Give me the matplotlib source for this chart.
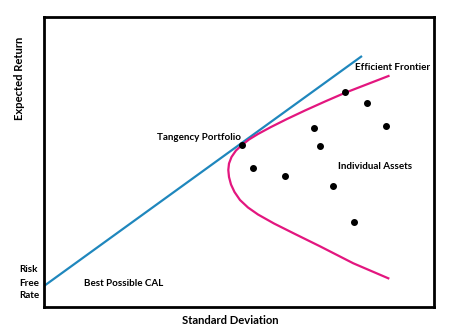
import matplotlib.pyplot as plt

# values (plot units: 0..390 across, 0..290 up)
cal_x = [0, 318]
cal_y = [21, 251]

frontier_x = [344.5, 323, 301.3, 281, 261, 243, 227, 214, 205, 198, 192, 187.5, 185,
              184.3, 185, 187, 190.5, 196, 204, 214, 230, 251, 276, 309.3, 344.3]
frontier_y = [231, 222.7, 214.3, 205.5, 196.5, 188, 180, 173, 167.5, 162, 156.5, 150, 143.5,
              137, 130, 122.5, 115, 107, 99.5, 92.5, 83.5, 73, 60.7, 43.7, 28.7]

asset_x = [197.7, 301.3, 323, 342, 269.7, 276.3, 208.7, 240.7, 289.3, 310]
asset_y = [162.3, 214.7, 204, 181.3, 179.3, 161.3, 138.7, 131.3, 120.7, 85.3]

plt.rcParams['font.family'] = ['Lato', 'DejaVu Sans']

W, H = 450, 335
fig = plt.figure(figsize=(4.5, 3.35), dpi=100)
ax = fig.add_axes([44 / W, 28 / H, 390 / W, 290 / H])

ax.plot(cal_x, cal_y, color='#1F87BD', linewidth=1.6, solid_capstyle='butt')
ax.plot(frontier_x, frontier_y, color='#E3167F', linewidth=1.6, solid_joinstyle='round')
ax.plot(asset_x, asset_y, 'o', color='black', markersize=4)

ax.set_xlim(0, 390)
ax.set_ylim(0, 290)
ax.set_xticks([])
ax.set_yticks([])
for s in ax.spines.values():
    s.set_linewidth(2)
    s.set_color('black')

def label(px, py, txt, fs=7.1, **kw):
    fig.text(px / W, 1 - py / H, txt, fontsize=fs, fontweight='bold', va='center', **kw)

label(20, 78, 'Expected Return', fs=8.1, rotation=90, ha='center')
label(230, 321, 'Standard Deviation', fs=8.1, ha='center')
label(157, 137, 'Tangency Portfolio')
label(355, 67, 'Efficient Frontier')
label(338, 167, 'Individual Assets')
label(84, 283, 'Best Possible CAL')
label(19, 269, 'Risk')
label(19, 283, 'Free')
label(19, 296, 'Rate')

fig.savefig('out.png', dpi=100)
